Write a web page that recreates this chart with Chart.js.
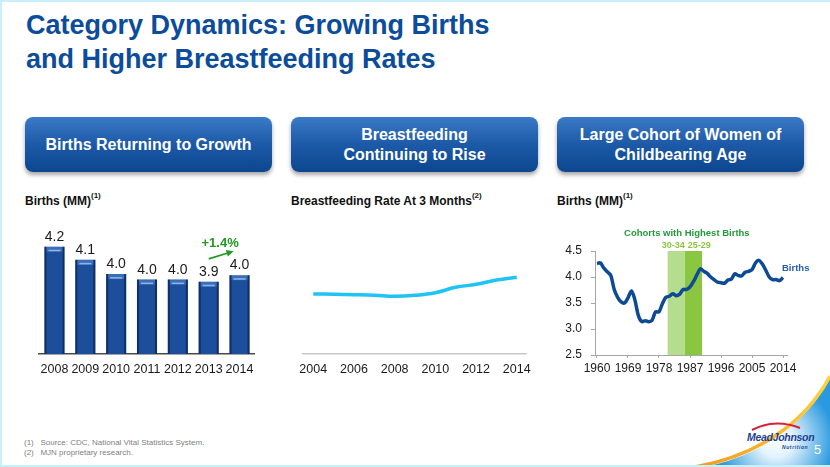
<!DOCTYPE html>
<html><head><meta charset="utf-8">
<script src="https://cdn.jsdelivr.net/npm/chart.js@4.4.0/dist/chart.umd.min.js"></script>
<style>
html,body{margin:0;padding:0;background:#fff;}
#slide{position:relative;width:830px;height:467px;overflow:hidden;font-family:"Liberation Sans",Arial,Helvetica,sans-serif;background:#fff;}
#frame{position:absolute;left:0;top:0;width:830px;height:467px;box-sizing:border-box;border:2px solid #c8effc;border-right:none;pointer-events:none;}
.title{position:absolute;left:26px;top:8px;font-size:27px;font-weight:bold;color:#0b4c9b;line-height:34px;white-space:nowrap;}
.box{position:absolute;top:117px;width:247px;height:55px;border-radius:8px;background:linear-gradient(#3b7ac6,#1c59a7 50%,#0c468f);box-shadow:0 3px 4px rgba(0,0,0,.35);color:#fff;font-weight:bold;font-size:16px;line-height:20px;display:flex;align-items:center;justify-content:center;text-align:center;}
.sub{position:absolute;top:194px;font-size:12px;line-height:14px;font-weight:bold;color:#111;white-space:nowrap;}
.sub sup{font-size:8px;line-height:8px;vertical-align:top;position:relative;top:-2px;}
canvas{position:absolute;}
.foot{position:absolute;left:24px;font-size:8px;color:#7f7f7f;white-space:nowrap;}
#swoosh{position:absolute;left:0;top:0;}
.logo{position:absolute;left:747px;top:431px;font-size:10.5px;font-style:italic;font-weight:bold;color:#1d3f92;letter-spacing:-0.3px;}
.nutr{position:absolute;left:782px;top:444px;font-size:5px;font-style:italic;font-weight:bold;color:#1d3f92;letter-spacing:0.6px;}
.page{position:absolute;left:814px;top:442px;font-size:13px;color:#fff;}
</style>
</head>
<body>
<div id="slide">
  <svg id="swoosh" width="830" height="467" viewBox="0 0 830 467">
    <defs>
      <radialGradient id="glow" cx="776" cy="440" r="58" gradientUnits="userSpaceOnUse">
        <stop offset="0" stop-color="#ffffff"/>
        <stop offset="0.3" stop-color="#e2f3fc"/>
        <stop offset="1" stop-color="#2a9ae0"/>
      </radialGradient>
      <linearGradient id="gold" x1="700" y1="467" x2="830" y2="380" gradientUnits="userSpaceOnUse">
        <stop offset="0" stop-color="#f39c1e"/>
        <stop offset="1" stop-color="#ffd23c"/>
      </linearGradient>
    </defs>
    <path d="M 705 467 C 762 455 806 424 830 378 L 830 467 Z" fill="url(#glow)"/>
    <path d="M 695 467 C 755 456 804 425 830 376" fill="none" stroke="url(#gold)" stroke-width="3.5"/>
    <path d="M 752 430 Q 775 418 800 428" fill="none" stroke="#d6213a" stroke-width="2"/>
  </svg>
  <div class="logo">MeadJohnson</div>
  <div class="nutr">Nutrition</div>
  <div class="page">5</div>

  <div class="title">Category Dynamics: Growing Births<br>and Higher Breastfeeding Rates</div>

  <div class="box" style="left:25px;">Births Returning to Growth</div>
  <div class="box" style="left:291px;">Breastfeeding<br>Continuing to Rise</div>
  <div class="box" style="left:557px;">Large Cohort of Women of<br>Childbearing Age</div>

  <div class="sub" style="left:25px;">Births (MM)<sup>(1)</sup></div>
  <div class="sub" style="left:291px;">Breastfeeding Rate At 3 Months<sup>(2)</sup></div>
  <div class="sub" style="left:557px;">Births (MM)<sup>(1)</sup></div>

  <canvas id="c1" width="228" height="185" style="left:33px;top:200px;"></canvas>
  <canvas id="c2" width="248" height="185" style="left:291px;top:200px;"></canvas>
  <canvas id="c3" width="255" height="170" style="left:555px;top:215px;"></canvas>

  <div class="foot" style="top:438px;">(1)&nbsp;&nbsp; Source: CDC, National Vital Statistics System.</div>
  <div class="foot" style="top:448px;">(2)&nbsp;&nbsp; MJN proprietary research.</div>
  <div id="frame"></div>
</div>

<script>
// ---------- DATA ----------
const barYears = ['2008','2009','2010','2011','2012','2013','2014'];
const barValues = [4.25, 4.13, 4.00, 3.95, 3.95, 3.93, 3.99];
const barLabels = ['4.2','4.1','4.0','4.0','4.0','3.9','4.0'];
const growthLabel = '+1.4%';

const bfYears = [2004,2005,2006,2007,2008,2009,2010,2011,2012,2013,2014];
const bfRates = [60.0, 59.8, 59.3, 58.7, 57.7, 58.7, 61.3, 66.7, 69.7, 74.0, 76.7];
const bfTicks = [2004,2006,2008,2010,2012,2014];

const birthYears = [1960,1961,1962,1963,1964,1965,1966,1967,1968,1969,
  1970,1971,1972,1973,1974,1975,1976,1977,1978,1979,
  1980,1981,1982,1983,1984,1985,1986,1987,1988,1989,
  1990,1991,1992,1993,1994,1995,1996,1997,1998,1999,
  2000,2001,2002,2003,2004,2005,2006,2007,2008,2009,
  2010,2011,2012,2013,2014];
const birthValues = [4.26,4.27,4.17,4.10,4.03,3.76,3.61,3.52,3.50,3.60,
  3.73,3.56,3.26,3.14,3.16,3.14,3.17,3.33,3.33,3.49,
  3.61,3.63,3.68,3.64,3.67,3.76,3.76,3.81,3.91,4.04,
  4.16,4.11,4.07,4.00,3.95,3.90,3.89,3.88,3.94,3.96,
  4.06,4.03,4.02,4.09,4.11,4.14,4.27,4.32,4.25,4.13,
  4.00,3.95,3.95,3.93,3.99];
const birthXTicks = [1960,1969,1978,1987,1996,2005,2014];
const birthYTicks = [2.5,3.0,3.5,4.0,4.5];
const cohortLabels = ['30-34','25-29'];
const cohortFrom = [1980.5, 1985.5];
const cohortTo = [1985.5, 1990.5];
const cohortTitle = 'Cohorts with Highest Births';
const seriesName = 'Births';

// ---------- STYLE ----------
const FONT = '"Liberation Sans", Arial, Helvetica, sans-serif';
Chart.defaults.font.family = FONT;
Chart.defaults.color = '#1a1a1a';
Chart.defaults.animation = false;

// ---------- CHART 1: bars ----------
const barDeco = {
  id: 'barDeco',
  afterDatasetsDraw(chart) {
    const ctx = chart.ctx;
    const bars = chart.getDatasetMeta(0).data;
    const bottom = chart.chartArea.bottom;
    ctx.save();
    bars.forEach((bar, i) => {
      const l = bar.x - bar.width / 2, r = bar.x + bar.width / 2, t = bar.y, b = Math.min(bar.base, bottom);
      ctx.fillStyle = 'rgba(5,22,60,0.55)';
      ctx.fillRect(l, t, 2, b - t);
      ctx.fillRect(r - 2, t, 2, b - t);
      ctx.fillStyle = 'rgba(120,170,235,0.35)';
      ctx.fillRect(l + 2, t, r - l - 4, 5);
      ctx.fillStyle = 'rgba(150,195,245,0.85)';
      ctx.fillRect(l + 4, t + 3, r - l - 8, 1.5);
      ctx.fillStyle = '#1a1a1a';
      ctx.font = '14px ' + FONT;
      ctx.textAlign = 'center';
      ctx.textBaseline = 'alphabetic';
      ctx.fillText(barLabels[i], bar.x, t - 6);
    });
    // growth annotation between the last two bars
    const a = bars[bars.length - 2], z = bars[bars.length - 1];
    const x0 = a.x, y0 = a.y - 23, x1 = z.x - 6, y1 = z.y - 24;
    ctx.strokeStyle = '#1f9a22';
    ctx.fillStyle = '#1f9a22';
    ctx.lineWidth = 1.8;
    ctx.beginPath(); ctx.moveTo(x0, y0); ctx.lineTo(x1 - 4, y1 + 1.3); ctx.stroke();
    const ang = Math.atan2(y1 - y0, x1 - x0);
    ctx.beginPath();
    ctx.moveTo(x1, y1);
    ctx.lineTo(x1 - 7 * Math.cos(ang) + 3.5 * Math.sin(ang), y1 - 7 * Math.sin(ang) - 3.5 * Math.cos(ang));
    ctx.lineTo(x1 - 7 * Math.cos(ang) - 3.5 * Math.sin(ang), y1 - 7 * Math.sin(ang) + 3.5 * Math.cos(ang));
    ctx.closePath(); ctx.fill();
    ctx.font = 'bold 13px ' + FONT;
    ctx.textAlign = 'center';
    ctx.fillText(growthLabel, (a.x + z.x) / 2 - 4, z.y - 28);
    ctx.restore();
  }
};

new Chart(document.getElementById('c1'), {
  type: 'bar',
  data: { labels: barYears, datasets: [{
    data: barValues,
    backgroundColor: '#1d4e9b',
    borderWidth: 0,
    categoryPercentage: 1,
    barPercentage: 0.65
  }]},
  options: {
    responsive: false,
    layout: { padding: { top: 15, left: 0, right: 0, bottom: 0 } },
    plugins: { legend: { display: false }, tooltip: { enabled: false } },
    scales: {
      x: {
        grid: { display: false, drawTicks: false },
        border: { display: true, color: '#4a4a4a', width: 1.5 },
        ticks: { font: { size: 12.5 }, color: '#1a1a1a', padding: 8, maxRotation: 0, autoSkip: false },
        afterFit(s) { s.height = 31; }
      },
      y: { display: false, min: 3.27, max: 4.54 }
    }
  },
  plugins: [barDeco]
});

// ---------- CHART 2: breastfeeding line ----------
new Chart(document.getElementById('c2'), {
  type: 'line',
  data: { datasets: [{
    data: bfYears.map((y, i) => ({ x: y, y: bfRates[i] })),
    borderColor: '#1fc3f4',
    borderWidth: 3.5,
    pointRadius: 0,
    tension: 0.4,
    fill: false
  }]},
  options: {
    responsive: false,
    layout: { padding: { top: 15, left: 10, right: 10, bottom: 0 } },
    plugins: { legend: { display: false }, tooltip: { enabled: false } },
    scales: {
      x: {
        type: 'linear', min: 2003.5, max: 2014.5,
        afterBuildTicks(s) { s.ticks = bfTicks.map(v => ({ value: v })); },
        grid: { display: false, drawTicks: false },
        border: { display: true, color: '#c8c8c8', width: 1.5 },
        ticks: { font: { size: 12.5 }, color: '#1a1a1a', padding: 8, maxRotation: 0, autoSkip: false,
          callback: v => String(v) },
        afterFit(s) { s.height = 31; }
      },
      y: { display: false, min: 0, max: 139 }
    }
  }
});

// ---------- CHART 3: births since 1960 ----------
const cohortDeco = {
  id: 'cohortDeco',
  beforeDatasetsDraw(chart) {
    const { ctx, scales: { x, y } } = chart;
    const top = y.getPixelForValue(y.max), bottom = y.getPixelForValue(y.min);
    const fills = ['#b4dd8d', '#8bc642'];
    ctx.save();
    cohortLabels.forEach((lab, i) => {
      const x0 = x.getPixelForValue(cohortFrom[i]), x1 = x.getPixelForValue(cohortTo[i]);
      ctx.fillStyle = fills[i];
      ctx.fillRect(x0, top, x1 - x0, bottom - top);
    });
    const mid = x.getPixelForValue(cohortTo[0]);
    ctx.fillStyle = '#8cc63f';
    ctx.font = 'bold 9px ' + FONT;
    ctx.textBaseline = 'alphabetic';
    ctx.textAlign = 'right';
    ctx.fillText(cohortLabels[0], mid, top - 3);
    ctx.textAlign = 'left';
    ctx.fillText(cohortLabels[1], mid + 3, top - 3);
    const xs = x.getPixelForValue(cohortFrom[0]), xe = x.getPixelForValue(cohortTo[cohortTo.length - 1]);
    ctx.fillStyle = '#24993a';
    ctx.font = 'bold 9.5px ' + FONT;
    ctx.textAlign = 'center';
    ctx.fillText(cohortTitle, (xs + xe) / 2 + 2, top - 15);
    ctx.restore();
  },
  afterDatasetsDraw(chart) {
    const { ctx, scales: { x, y } } = chart;
    const n = birthYears.length - 1;
    ctx.save();
    ctx.fillStyle = '#2161ae';
    ctx.font = 'bold 9.5px ' + FONT;
    ctx.textAlign = 'left';
    ctx.textBaseline = 'middle';
    ctx.fillText(seriesName, x.getPixelForValue(birthYears[n]) - 1, y.getPixelForValue(birthValues[n]) - 9);
    ctx.restore();
  }
};

new Chart(document.getElementById('c3'), {
  type: 'line',
  data: { datasets: [{
    data: birthYears.map((yr, i) => ({ x: yr, y: birthValues[i] })),
    borderColor: '#0d4a96',
    borderWidth: 3.5,
    pointRadius: 0,
    tension: 0.3,
    fill: false
  }]},
  options: {
    responsive: false,
    layout: { padding: { top: 36, left: 0, right: 23, bottom: 0 } },
    plugins: { legend: { display: false }, tooltip: { enabled: false } },
    scales: {
      x: {
        type: 'linear', min: 1959.42, max: 2015.16,
        afterBuildTicks(s) { s.ticks = birthXTicks.map(v => ({ value: v })); },
        grid: { display: true, drawOnChartArea: false, drawTicks: true, tickLength: 3, color: '#a6a6a6' },
        border: { display: true, color: '#a6a6a6', width: 1 },
        ticks: { font: { size: 12 }, color: '#1a1a1a', padding: 3, maxRotation: 0, autoSkip: false,
          callback: v => String(v) },
        afterFit(s) { s.height = 30; }
      },
      y: {
        min: 2.5, max: 4.5,
        afterBuildTicks(s) { s.ticks = birthYTicks.map(v => ({ value: v })); },
        grid: { display: true, drawOnChartArea: false, drawTicks: true, tickLength: 4, color: '#a6a6a6' },
        border: { display: true, color: '#a6a6a6', width: 1 },
        ticks: { font: { size: 12 }, color: '#1a1a1a', padding: 9, callback: v => Number(v).toFixed(1) },
        afterFit(s) { s.width = 40; }
      }
    }
  },
  plugins: [cohortDeco]
});
</script>
</body></html>
